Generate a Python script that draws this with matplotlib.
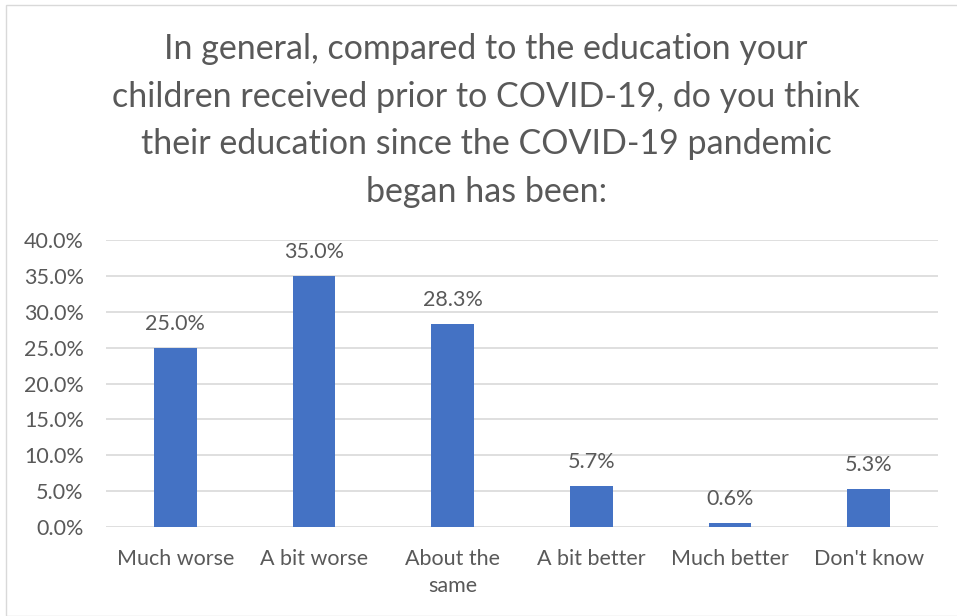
import matplotlib.pyplot as plt
from matplotlib.patches import Rectangle
from matplotlib.ticker import FuncFormatter

categories = ["Much worse", "A bit worse", "About the\nsame", "A bit better", "Much better", "Don't know"]
values = [25.0, 35.0, 28.3, 5.7, 0.6, 5.3]
yticks = [0, 5, 10, 15, 20, 25, 30, 35, 40]

title = ("In general, compared to the education your\n"
         "children received prior to COVID-19, do you think\n"
         "their education since the COVID-19 pandemic\n"
         "began has been:")

plt.rcParams["font.family"] = ["Lato", "DejaVu Sans"]
text_col = "#595959"
fs = 15.5

fig = plt.figure(figsize=(9.57, 6.16), dpi=100)
ax = fig.add_axes([106 / 957, 1 - 527 / 616, (938 - 106) / 957, (527 - 240) / 616])

x = list(range(len(categories)))
ax.bar(x, values, width=0.31, color="#4472C4", zorder=3)
for xi, v in zip(x, values):
    ax.text(xi, v + 1.9, f"{v:.1f}%", ha="center", va="bottom", fontsize=fs, color=text_col)

ax.set_xlim(-0.5, len(categories) - 0.5)
ax.set_ylim(0, 40)
ax.set_yticks(yticks)
ax.yaxis.set_major_formatter(FuncFormatter(lambda v, p: f"{v:.1f}%"))
ax.set_xticks(x)
ax.set_xticklabels(categories, fontsize=fs, color=text_col, linespacing=1.45)
ax.tick_params(axis="y", labelsize=fs, labelcolor=text_col, length=0, pad=16)
ax.tick_params(axis="x", length=0, pad=16)
ax.grid(axis="y", color="#D9D9D9", linewidth=1.2, zorder=0)
for s in ax.spines.values():
    s.set_visible(False)

fig.text(0.508, 1 - 33 / 616, title, ha="center", va="top", fontsize=24.5, color=text_col, linespacing=1.6)

# chart border
fig.patches.append(Rectangle((6 / 957, 0), 1, 1 - 5 / 616, transform=fig.transFigure,
                             fill=False, edgecolor="#D9D9D9", linewidth=1))

fig.savefig("out.png", dpi=100)
